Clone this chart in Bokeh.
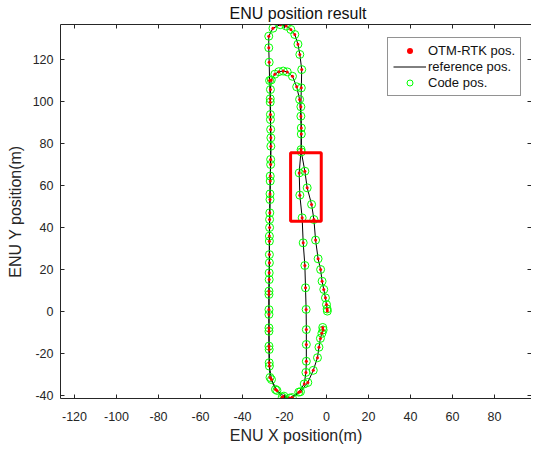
from bokeh.plotting import figure
from bokeh.models import Range1d, LinearAxis, FixedTicker, Legend, LegendItem
from bokeh.embed import file_html
from bokeh.resources import INLINE

# ---- data (metres, ENU) ----
# lap 1: start, bottom turn, left side up, outer arch, right side down (straight branch), bottom turn
lap1_x = [-1.8, -1.6, -2.2, -2.9, -3.6, -4.3, -6.3, -8.9, -12.4, -16.3, -21.1, -24.3, -26.9,
          -27.3, -27.4, -27.4, -27.4, -27.4, -27.3, -27.2, -27.2, -27.1, -26.9, -26.8, -26.6,
          -26.5, -26.6, -26.7, -26.8, -27.1, -27.3, -27.5, -27.5,
          -25.5, -22.0, -19.2, -17.0, -15.1, -13.6, -12.7, -11.8, -12.0, -12.2, -12.0, -12.1,
          -13.0, -12.7, -11.6, -11.1, -10.3, -10.0, -9.7, -9.6, -9.6, -9.6, -9.8, -10.6,
          -13.2, -17.5, -20.3, -23.6, -26.2]
lap1_y = [-7.6, -8.8, -10.4, -12.8, -17.0, -22.0, -28.0, -33.8, -38.2, -41.0, -40.8, -37.1, -31.4,
          -24.4, -16.5, -7.8, 0.9, 9.7, 18.4, 27.1, 35.9, 43.8, 53.3, 62.1, 70.0,
          78.7, 86.7, 93.8, 101.3, 110.0, 118.7, 125.6, 131.1,
          134.9, 136.6, 135.9, 134.3, 131.9, 127.3, 122.4, 115.2, 106.5, 97.5, 87.4, 77.1,
          66.0, 55.4, 44.6, 32.7, 21.9, 11.3, 1.0, -8.6, -15.7, -23.7, -29.0, -34.5,
          -38.4, -41.2, -40.3, -37.6, -32.4]
# lap 2: left side up, inner arch, right side down (curving branch) to the end point
lap2_x = [-27.2, -27.3, -27.4, -27.4, -27.4, -27.3, -27.2, -27.2, -27.1, -27.0, -26.9, -26.8,
          -26.6, -26.5, -26.7, -26.8, -26.7,
          -26.3, -24.6, -22.7, -20.6, -18.7, -16.2, -14.2, -12.8, -12.2, -12.0, -12.0,
          -10.3, -9.2, -7.1, -6.0, -5.2, -4.0, -2.8, -2.1, -1.3, -0.5, 0.0, 0.3, 0.4]
lap2_y = [-26.0, -18.1, -9.4, -1.4, 8.1, 15.2, 23.2, 33.5, 40.0, 47.0, 56.0, 64.5,
          72.4, 82.7, 91.4, 99.7, 105.7,
          110.3, 113.0, 114.2, 114.5, 114.1, 112.0, 107.0, 101.0, 93.0, 84.5, 76.0,
          66.8, 58.9, 51.0, 43.8, 34.0, 25.1, 20.0, 14.4, 10.5, 6.5, 3.3, 1.2, 0.2]

box_x = [-17.1, -2.5]
box_y = [43.0, 75.6]

x_ticks = [-120, -100, -80, -60, -40, -20, 0, 20, 40, 60, 80]
y_ticks = [-40, -20, 0, 20, 40, 60, 80, 100, 120]

rtk_x = lap1_x + lap2_x
rtk_y = lap1_y + lap2_y

FONT = "Liberation Sans"
AX = "#262626"

p = figure(frame_width=471, frame_height=374,
           x_range=Range1d(-126.67, 97.62), y_range=Range1d(-41.43, 136.67),
           output_backend="svg", toolbar_location=None,
           min_border_left=60, min_border_right=0, min_border_top=0, min_border_bottom=43)
p.background_fill_color = "white"
p.border_fill_color = "white"
p.outline_line_color = None
p.xgrid.visible = False
p.ygrid.visible = False

p.title.text = "ENU position result"
p.title.text_font = FONT
p.title.text_font_size = "16px"
p.title.text_font_style = "normal"
p.title.text_color = "#111111"
p.title.align = "left"
p.title.offset = 169
p.title.standoff = 5

xb = p.below[0]
yl = p.left[0]

for ax in [xb, yl]:
    ax.major_label_text_font = FONT
    ax.major_label_text_font_size = "12.5px"
    ax.major_label_text_color = AX
    ax.axis_label_text_font = FONT
    ax.axis_label_text_font_size = "16px"
    ax.axis_label_text_font_style = "normal"
    ax.axis_label_text_color = AX

xb.ticker = FixedTicker(ticks=x_ticks)
yl.ticker = FixedTicker(ticks=y_ticks)
xb.major_label_overrides = {t: str(t) for t in x_ticks}
yl.major_label_overrides = {t: str(t) for t in y_ticks}
xb.axis_label = "ENU X position(m)"
yl.axis_label = "ENU Y position(m)"
xb.major_label_standoff = 13
xb.axis_label_standoff = 3
yl.major_label_standoff = 7
yl.axis_label_standoff = 6

top_axis = LinearAxis(ticker=FixedTicker(ticks=x_ticks))
right_axis = LinearAxis(ticker=FixedTicker(ticks=y_ticks))
for ax in [top_axis, right_axis]:
    ax.major_label_text_font_size = "0px"
    ax.major_label_standoff = 0
    ax.major_label_text_alpha = 0
p.add_layout(top_axis, "above")
p.add_layout(right_axis, "right")

for ax in [xb, yl, top_axis, right_axis]:
    ax.major_tick_in = 4
    ax.major_tick_out = 0
    ax.minor_tick_line_color = None
    ax.axis_line_color = AX
    ax.major_tick_line_color = AX

ref = p.line(rtk_x, rtk_y, line_color="black", line_width=1)
code = p.scatter(rtk_x, rtk_y, marker="circle", size=8, fill_color=None,
                 line_color="#00FF00", line_width=1)
rtk = p.scatter(rtk_x, rtk_y, marker="circle", size=3, fill_color="#FF0000",
                line_color=None)
p.quad(left=[box_x[0]], right=[box_x[1]], bottom=[box_y[0]], top=[box_y[1]],
       fill_color=None, line_color="#FF0000", line_width=3)

legend = Legend(items=[LegendItem(label="OTM-RTK pos.", renderers=[rtk]),
                       LegendItem(label="reference pos.", renderers=[ref]),
                       LegendItem(label="Code pos.", renderers=[code])],
                location=(327, 302))
legend.label_text_font = FONT
legend.label_text_font_size = "13px"
legend.label_text_color = "#111111"
legend.glyph_width = 33
legend.glyph_height = 15
legend.label_height = 15
legend.label_standoff = 2
legend.spacing = 1
legend.padding = 5
legend.margin = 0
legend.border_line_color = AX
legend.border_line_width = 1
legend.background_fill_color = "white"
legend.background_fill_alpha = 1
p.add_layout(legend)

open("out.html", "w").write(file_html(p, INLINE))
